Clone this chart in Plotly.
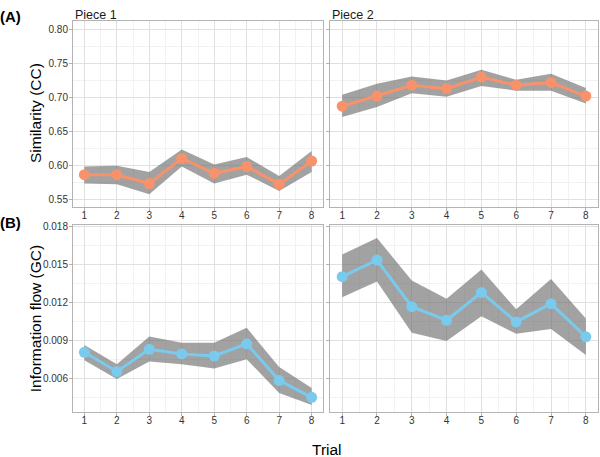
import plotly.graph_objects as go

trials = [1, 2, 3, 4, 5, 6, 7, 8]

cc_p1 = [0.586, 0.586, 0.573, 0.610, 0.588, 0.598, 0.572, 0.606]
cc_p1_hi = [0.598, 0.599, 0.590, 0.623, 0.601, 0.612, 0.584, 0.621]
cc_p1_lo = [0.573, 0.572, 0.557, 0.598, 0.573, 0.586, 0.562, 0.590]

cc_p2 = [0.687, 0.702, 0.718, 0.713, 0.730, 0.718, 0.722, 0.702]
cc_p2_hi = [0.704, 0.720, 0.731, 0.725, 0.741, 0.726, 0.735, 0.714]
cc_p2_lo = [0.671, 0.686, 0.706, 0.701, 0.717, 0.710, 0.710, 0.691]

gc_p1 = [0.00806, 0.00654, 0.00830, 0.00793, 0.00777, 0.00873, 0.00584, 0.00451]
gc_p1_hi = [0.00863, 0.00712, 0.00931, 0.00881, 0.00881, 0.00999, 0.00691, 0.00524]
gc_p1_lo = [0.00743, 0.00595, 0.00733, 0.00712, 0.00678, 0.00751, 0.00485, 0.00391]

gc_p2 = [0.01403, 0.01534, 0.01166, 0.01059, 0.01278, 0.01046, 0.01190, 0.00928]
gc_p2_hi = [0.01578, 0.01708, 0.01372, 0.01229, 0.01460, 0.01145, 0.01385, 0.01072]
gc_p2_lo = [0.01241, 0.01364, 0.00960, 0.00895, 0.01090, 0.00952, 0.00990, 0.00785]

cc_ticks = [0.55, 0.60, 0.65, 0.70, 0.75, 0.80]
gc_ticks = [0.006, 0.009, 0.012, 0.015, 0.018]

ORANGE = "#F7926B"
BLUE = "#79CAEC"
RIBBON = "rgba(110,110,110,0.64)"

W, H = 600, 457
xdoms = [(73 / W, 323 / W), (330 / W, 598 / W)]
ydoms = [(1 - 205 / H, 1 - 17 / H), (1 - 412 / H, 1 - 223 / H)]

fig = go.Figure()

panels = [
    (0, 0, cc_p1, cc_p1_hi, cc_p1_lo, ORANGE),
    (1, 0, cc_p2, cc_p2_hi, cc_p2_lo, ORANGE),
    (0, 1, gc_p1, gc_p1_hi, gc_p1_lo, BLUE),
    (1, 1, gc_p2, gc_p2_hi, gc_p2_lo, BLUE),
]

TICKFONT = dict(size=10, color="#333333", family="Liberation Sans")

layout = {}
for i, (c, r, y, hi, lo, col) in enumerate(panels):
    n = i + 1
    xa = "x" if n == 1 else f"x{n}"
    ya = "y" if n == 1 else f"y{n}"
    fig.add_trace(go.Scatter(
        x=trials + trials[::-1], y=hi + lo[::-1], fill="toself",
        fillcolor=RIBBON, line=dict(width=0), mode="lines",
        xaxis=xa, yaxis=ya, showlegend=False, hoverinfo="skip"))
    fig.add_trace(go.Scatter(
        x=trials, y=y, mode="lines+markers",
        line=dict(color=col, width=3), marker=dict(color=col, size=11),
        xaxis=xa, yaxis=ya, showlegend=False))
    xk = "xaxis" if n == 1 else f"xaxis{n}"
    yk = "yaxis" if n == 1 else f"yaxis{n}"
    layout[xk] = dict(
        domain=xdoms[c], anchor=ya, range=[0.65, 8.35],
        tickmode="array", tickvals=trials, ticktext=[str(t) for t in trials],
        showgrid=True, gridcolor="#E0E0E0", gridwidth=1,
        minor=dict(dtick=0.5, tick0=0.5, showgrid=True, gridcolor="#F2F2F2", gridwidth=1, ticks=""),
        ticks="outside", ticklen=3, tickcolor="#B3B3B3",
        ticklabelstandoff=-4,
        tickfont=TICKFONT,
        showline=True, linecolor="#B3B3B3", linewidth=1, mirror=True,
        zeroline=False, fixedrange=True)
    if r == 0:
        yrange = [0.538, 0.813]
        tv = cc_ticks
        tt = [f"{v:.2f}" for v in cc_ticks]
        mdt = 0.025
        mt0 = 0.525
    else:
        yrange = [0.00332, 0.0181]
        tv = gc_ticks
        tt = [f"{v:.3f}" for v in gc_ticks]
        mdt = 0.0015
        mt0 = 0.0045
    layout[yk] = dict(
        domain=ydoms[r], anchor=xa, range=yrange,
        tickmode="array", tickvals=tv, ticktext=tt, showticklabels=(c == 0),
        showgrid=True, gridcolor="#E0E0E0", gridwidth=1,
        minor=dict(dtick=mdt, tick0=mt0, showgrid=True, gridcolor="#F2F2F2", gridwidth=1, ticks=""),
        ticks="outside", ticklen=3, tickcolor="#B3B3B3",
        ticklabelstandoff=-1,
        tickfont=TICKFONT,
        showline=True, linecolor="#B3B3B3", linewidth=1, mirror=True,
        zeroline=False, fixedrange=True)

annotations = [
    dict(text="Piece 1", x=73 / W, y=1 - 2 / H, xref="paper", yref="paper",
         xanchor="left", yanchor="top", showarrow=False,
         font=dict(size=12.5, color="#1A1A1A", family="Liberation Sans")),
    dict(text="Piece 2", x=330 / W, y=1 - 2 / H, xref="paper", yref="paper",
         xanchor="left", yanchor="top", showarrow=False,
         font=dict(size=12.5, color="#1A1A1A", family="Liberation Sans")),
    dict(text="<b>(A)</b>", x=-2 / W, y=1 - 13 / H, xref="paper", yref="paper",
         xanchor="left", yanchor="middle", showarrow=False,
         font=dict(size=15, color="black", family="Liberation Sans")),
    dict(text="<b>(B)</b>", x=-2 / W, y=1 - 220 / H, xref="paper", yref="paper",
         xanchor="left", yanchor="middle", showarrow=False,
         font=dict(size=15, color="black", family="Liberation Sans")),
    dict(text="Similarity (CC)", x=35 / W, y=1 - 110 / H, xref="paper", yref="paper",
         xanchor="center", yanchor="middle", showarrow=False, textangle=-90,
         font=dict(size=15.5, color="black", family="Liberation Sans")),
    dict(text="Information flow (GC)", x=35 / W, y=1 - 318 / H, xref="paper", yref="paper",
         xanchor="center", yanchor="middle", showarrow=False, textangle=-90,
         font=dict(size=15.5, color="black", family="Liberation Sans")),
    dict(text="Trial", x=327 / W, y=1 - 449 / H, xref="paper", yref="paper",
         xanchor="center", yanchor="middle", showarrow=False,
         font=dict(size=15.5, color="black", family="Liberation Sans")),
]

fig.update_layout(
    width=W, height=H, margin=dict(l=0, r=0, t=0, b=0),
    paper_bgcolor="white", plot_bgcolor="white",
    annotations=annotations, showlegend=False, **layout)

fig.write_html("out.html", config={"displayModeBar": False})

with open("out.html", "r", encoding="utf-8") as f:
    html = f.read()
html = html.replace("<head>", "<head><style>html,body{margin:0;padding:0;overflow:hidden;}</style>", 1)
with open("out.html", "w", encoding="utf-8") as f:
    f.write(html)
